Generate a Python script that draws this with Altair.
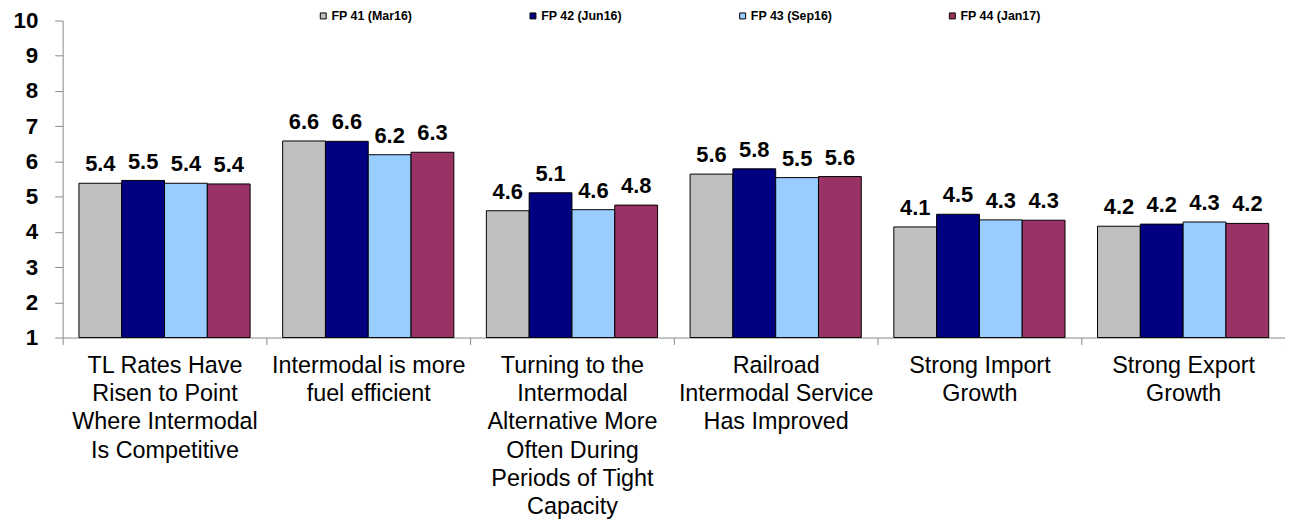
import altair as alt
import pandas as pd

categories = [
    "TL Rates Have\nRisen to Point\nWhere Intermodal\nIs Competitive",
    "Intermodal is more\nfuel efficient",
    "Turning to the\nIntermodal\nAlternative More\nOften During\nPeriods of Tight\nCapacity",
    "Railroad\nIntermodal Service\nHas Improved",
    "Strong Import\nGrowth",
    "Strong Export\nGrowth",
]
series = ["FP 41 (Mar16)", "FP 42 (Jun16)", "FP 43 (Sep16)", "FP 44 (Jan17)"]
colors = ["#C0C0C0", "#000080", "#99CCFF", "#993366"]
y_ticks = [1, 2, 3, 4, 5, 6, 7, 8, 9, 10]

fp41 = [5.38, 6.58, 4.60, 5.64, 4.14, 4.16]
fp42 = [5.46, 6.57, 5.11, 5.79, 4.50, 4.22]
fp43 = [5.38, 6.19, 4.63, 5.54, 4.34, 4.28]
fp44 = [5.36, 6.26, 4.76, 5.57, 4.33, 4.24]

rows = []
for s, vals in zip(series, [fp41, fp42, fp43, fp44]):
    for c, v in zip(categories, vals):
        rows.append({"category": c, "series": s, "value": v})
df = pd.DataFrame(rows)

FONT = "Liberation Sans, Arial, sans-serif"
yscale = alt.Scale(domain=[1, 10], zero=False, nice=False)
yaxis = alt.Axis(
    title=None,
    values=y_ticks,
    tickCount=10,
    grid=False,
    labelOverlap=False,
    labelFont=FONT,
    labelFontSize=22.5,
    labelFontWeight="bold",
    labelColor="black",
    labelPadding=17,
    tickSize=8,
    tickColor="#888888",
    domainColor="#888888",
)

base = alt.Chart(df).encode(
    x=alt.X(
        "category:N",
        sort=categories,
        scale=alt.Scale(paddingInner=0, paddingOuter=0),
        axis=alt.Axis(
            title=None,
            labelAngle=0,
            labelFont=FONT,
            labelFontSize=23.5,
            labelLineHeight=28.5,
            labelExpr="split(datum.label, '\\n')",
            labelPadding=9,
            labelLimit=400,
            labelColor="black",
            tickBand="extent",
            tickSize=7,
            tickColor="#888888",
            domainColor="#888888",
        ),
    ),
    xOffset=alt.XOffset(
        "series:N",
        sort=series,
        scale=alt.Scale(paddingInner=0, paddingOuter=0.38),
    ),
)

bars = base.mark_bar(stroke="black", strokeWidth=1).encode(
    y=alt.Y("value:Q", scale=yscale, axis=yaxis),
    y2=alt.datum(1),
    color=alt.Color(
        "series:N",
        sort=series,
        scale=alt.Scale(domain=series, range=colors),
        legend=alt.Legend(
            title=None,
            orient="none",
            legendX=256,
            legendY=-11,
            direction="horizontal",
            columns=4,
            gridAlign="all",
            columnPadding=114,
            symbolType="square",
            symbolSize=36,
            symbolStrokeColor="black",
            symbolStrokeWidth=1,
            labelFont=FONT,
            labelFontSize=12.5,
            labelFontWeight="bold",
            labelOffset=2,
            labelColor="black",
            padding=0,
        ),
    ),
)

labels = base.mark_text(
    baseline="alphabetic",
    dy=-12,
    font=FONT,
    fontSize=22,
    fontWeight="bold",
    color="black",
).encode(
    y=alt.Y("value:Q", scale=yscale, axis=yaxis),
    text=alt.Text("value:Q", format=".1f"),
)

chart = (
    alt.layer(bars, labels)
    .properties(
        width=1230,
        height=319,
        autosize=alt.AutoSizeParams(type="none"),
        padding={"left": 55, "top": 11, "right": 0, "bottom": 182},
    )
    .configure_view(stroke=None)
)

chart.save("out.html", embed_options={"renderer": "svg", "actions": False})
